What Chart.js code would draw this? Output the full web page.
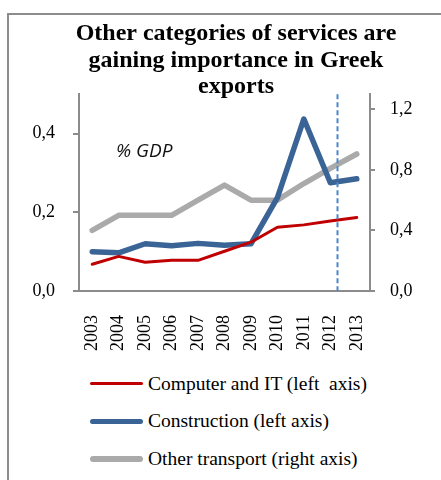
<!DOCTYPE html>
<html>
<head>
<meta charset="utf-8">
<title>Services exports</title>
<script src="https://cdn.jsdelivr.net/npm/chart.js@4.4.1/dist/chart.umd.min.js"></script>
<style>
    html, body { margin: 0; padding: 0; background: #fff; overflow: hidden; }
    body { width: 441px; height: 480px; position: relative; }
    .frame {
        position: absolute; left: 7px; top: 13px;
        width: 520px; height: 520px;
        border: 2px solid #8c8c8c; box-sizing: border-box;
    }
    .chart-box { position: absolute; left: 9px; top: 15px; width: 454px; height: 350px; }
    #legend {
        position: absolute; left: 90px; top: 365px;
        font-family: 'Liberation Serif', 'Times New Roman', serif;
        font-size: 19.5px; color: #000;
    }
    .legend-row { display: flex; align-items: center; height: 37.6px; white-space: pre; }
    .legend-swatch { display: inline-block; width: 53px; margin-right: 5px; }
</style>
</head>
<body>
<div class="frame"></div>
<div class="chart-box"><canvas id="servicesChart"></canvas></div>
<div id="legend"></div>

<script>
const years = ['2003', '2004', '2005', '2006', '2007', '2008', '2009', '2010', '2011', '2012', '2013'];
const computerIT = [0.068, 0.088, 0.073, 0.078, 0.078, 0.101, 0.124, 0.162, 0.168, 0.178, 0.187];
const construction = [0.100, 0.097, 0.120, 0.115, 0.121, 0.116, 0.120, 0.237, 0.437, 0.275, 0.285];
const otherTransport = [0.40, 0.50, 0.50, 0.50, 0.60, 0.70, 0.60, 0.60, 0.71, 0.81, 0.905];
const leftTicks = [0, 0.2, 0.4];
const rightTicks = [0, 0.4, 0.8, 1.2];
const dividerAt = 9.27;

const serif = "'Liberation Serif', 'Times New Roman', serif";
const axisGray = '#8c8c8c';

function fmtComma(v) {
    return Number(v).toFixed(1).replace('.', ',');
}

// dashed vertical marker just after 2012
const dividerLine = {
    id: 'dividerLine',
    afterDatasetsDraw(chart) {
        const { ctx, chartArea, scales } = chart;
        const x = Math.round(scales.x.getPixelForValue(dividerAt)) + 0.5;
        ctx.save();
        ctx.strokeStyle = '#4f86c6';
        ctx.lineWidth = 2;
        ctx.setLineDash([5, 3]);
        ctx.beginPath();
        ctx.moveTo(x, chartArea.top);
        ctx.lineTo(x, chartArea.bottom);
        ctx.stroke();
        ctx.restore();
    }
};

const unitNote = {
    id: 'unitNote',
    afterDraw(chart) {
        const { ctx, chartArea } = chart;
        ctx.save();
        ctx.font = "italic 19px 'Open Sans', sans-serif";
        ctx.fillStyle = '#111';
        ctx.textBaseline = 'middle';
        ctx.fillText('% GDP', chartArea.left + 37, chartArea.top + 57);
        ctx.restore();
    }
};

function buildLegend(chart) {
    const box = document.getElementById('legend');
    chart.data.datasets.forEach(ds => {
        const row = document.createElement('div');
        row.className = 'legend-row';
        const sw = document.createElement('span');
        sw.className = 'legend-swatch';
        sw.style.height = ds.borderWidth + 'px';
        sw.style.borderRadius = ds.borderWidth + 'px';
        sw.style.background = ds.borderColor;
        row.appendChild(sw);
        row.appendChild(document.createTextNode(ds.label));
        box.appendChild(row);
    });
}

function initChart() {
    const ctx = document.getElementById('servicesChart').getContext('2d');
    const tickFont = { family: serif, size: 18 };

    const chart = new Chart(ctx, {
        type: 'line',
        data: {
            labels: years,
            datasets: [
                {
                    label: 'Computer and IT (left  axis)',
                    data: computerIT,
                    borderColor: '#c00000',
                    borderWidth: 3,
                    yAxisID: 'y'
                },
                {
                    label: 'Construction (left axis)',
                    data: construction,
                    borderColor: '#3a6396',
                    borderWidth: 5.5,
                    yAxisID: 'y'
                },
                {
                    label: 'Other transport (right axis)',
                    data: otherTransport,
                    borderColor: '#aaaaaa',
                    borderWidth: 5.5,
                    yAxisID: 'y2'
                }
            ]
        },
        options: {
            responsive: true,
            maintainAspectRatio: false,
            animation: false,
            elements: {
                point: { radius: 0 },
                line: { tension: 0, borderCapStyle: 'round', borderJoinStyle: 'round' }
            },
            plugins: {
                legend: { display: false },
                tooltip: { enabled: false },
                title: {
                    display: true,
                    text: ['Other categories of services are', 'gaining importance in Greek', 'exports'],
                    color: '#000',
                    font: { family: serif, size: 24, weight: 'bold', lineHeight: 1.1 },
                    padding: { top: 6, bottom: -6 }
                }
            },
            scales: {
                x: {
                    offset: true,
                    afterFit: s => { s.height = 74; },
                    grid: { display: false },
                    border: { color: axisGray, width: 2 },
                    ticks: {
                        color: '#000',
                        font: tickFont,
                        padding: 16,
                        minRotation: 90,
                        maxRotation: 90,
                        autoSkip: false
                    }
                },
                y: {
                    position: 'left',
                    min: 0,
                    max: 0.5,
                    afterBuildTicks: s => { s.ticks = leftTicks.map(v => ({ value: v })); },
                    afterFit: s => { s.width = 70; },
                    grid: { drawOnChartArea: false, tickLength: 6, lineWidth: 2, color: axisGray },
                    border: { color: axisGray, width: 2 },
                    ticks: { color: '#000', font: tickFont, padding: 18, callback: fmtComma }
                },
                y2: {
                    position: 'right',
                    min: 0,
                    max: 1.3,
                    afterBuildTicks: s => { s.ticks = rightTicks.map(v => ({ value: v })); },
                    afterFit: s => { s.width = 93; },
                    grid: { drawOnChartArea: false, tickLength: 5, lineWidth: 2, color: axisGray },
                    border: { color: axisGray, width: 2 },
                    ticks: { color: '#000', font: tickFont, padding: 15, callback: fmtComma }
                }
            }
        },
        plugins: [dividerLine, unitNote]
    });

    buildLegend(chart);
}

document.addEventListener('DOMContentLoaded', initChart);
</script>
</body>
</html>
